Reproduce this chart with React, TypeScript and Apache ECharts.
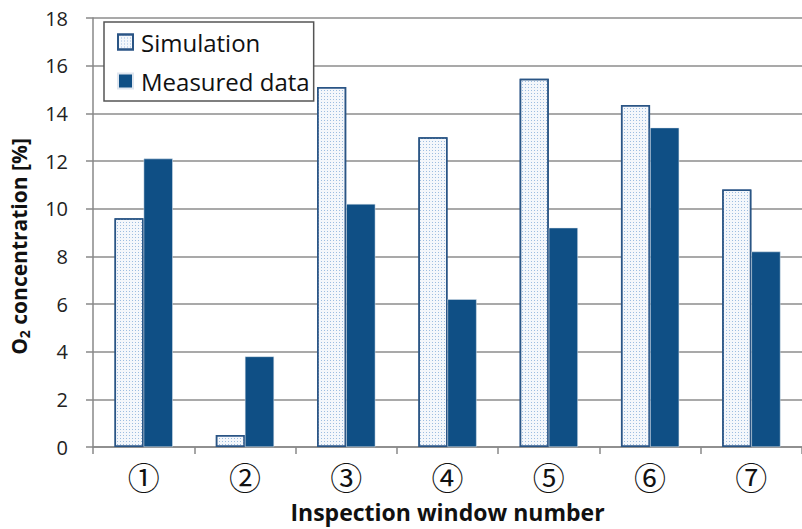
import React, { useEffect, useRef } from "react";
import * as echarts from "echarts";

const categories = ["①", "②", "③", "④", "⑤", "⑥", "⑦"];
const simulation = [9.6, 0.5, 15.1, 13.0, 15.45, 14.35, 10.8];
const measured = [12.1, 3.8, 10.2, 6.2, 9.2, 13.4, 8.2];
const yMin = 0;
const yMax = 18;
const yInterval = 2;

const FONT = "'Open Sans', 'Noto Sans', sans-serif";
const BLUE = "#0f4f85";

export default function App() {
  const ref = useRef<HTMLDivElement>(null);
  useEffect(() => {
    if (!ref.current) return;
    const chart = echarts.init(ref.current, undefined, { renderer: "svg" });
    chart.setOption({
      animation: false,
      backgroundColor: "#fff",
      textStyle: { fontFamily: FONT },
      grid: { left: 93, top: 18, width: 719, height: 429, containLabel: false },
      legend: {
        left: 104,
        top: 22,
        orient: "vertical",
        icon: "rect",
        itemWidth: 15,
        itemHeight: 15,
        itemGap: 15,
        padding: [8, 4, 8, 13],
        borderColor: "#555",
        borderWidth: 1.5,
        backgroundColor: "#fff",
        textStyle: { fontSize: 24, color: "#111", fontFamily: FONT, padding: [0, 0, 0, 3] },
        data: ["Simulation", "Measured data"],
      },
      xAxis: {
        type: "category",
        data: categories,
        name: "Inspection window number",
        nameLocation: "middle",
        nameGap: 53,
        nameTextStyle: { fontSize: 23, fontWeight: "bold", color: "#111", fontFamily: FONT },
        axisLine: { lineStyle: { color: "#888", width: 1.5 } },
        axisTick: { show: true, length: 7, lineStyle: { color: "#888", width: 1.5 } },
        axisLabel: { fontSize: 32, color: "#111", margin: 13, fontFamily: "'Noto Sans CJK JP', 'DejaVu Sans', sans-serif" },
      },
      yAxis: {
        type: "value",
        min: yMin,
        max: yMax,
        interval: yInterval,
        name: "{b|O}{s|2}{b| concentration [%]}",
        nameLocation: "middle",
        nameGap: 62,
        nameRotate: 90,
        nameTextStyle: {
          padding: [0, 28, 0, 0],
          rich: {
            b: { fontSize: 21, fontWeight: "bold", color: "#111", fontFamily: FONT },
            s: { fontSize: 14, fontWeight: "bold", color: "#111", fontFamily: FONT, verticalAlign: "bottom", padding: [10, 0, 0, 0] },
          },
        },
        axisLine: { show: true, lineStyle: { color: "#888", width: 1.5 } },
        axisTick: { show: true, length: 7, lineStyle: { color: "#888", width: 1.5 } },
        axisLabel: { fontSize: 20, color: "#222", margin: 25, fontFamily: FONT },
        splitLine: { lineStyle: { color: "#8c8c8c", width: 1.5 } },
      },
      series: [
        {
          name: "Simulation",
          type: "bar",
          data: simulation,
          barGap: "0%",
          barCategoryGap: "42.5%",
          itemStyle: {
            color: "#f4f7fb",
            borderColor: "#2a5585",
            borderWidth: 1.5,
            decal: {
              symbol: "rect",
              symbolSize: 1,
              color: "#9dbde0",
              backgroundColor: "#ffffff",
              dashArrayX: [1, 2],
              dashArrayY: [1, 2],
            },
          },
        },
        {
          name: "Measured data",
          type: "bar",
          data: measured,
          barGap: "0%",
          barCategoryGap: "42.5%",
          itemStyle: { color: BLUE, borderColor: "#dfe6ef", borderWidth: 0.5 },
        },
      ],
    });
    return () => chart.dispose();
  }, []);
  return (
    <div
      ref={ref}
      style={{ position: "fixed", left: 0, top: 0, width: 802, height: 529, background: "#fff" }}
    />
  );
}
